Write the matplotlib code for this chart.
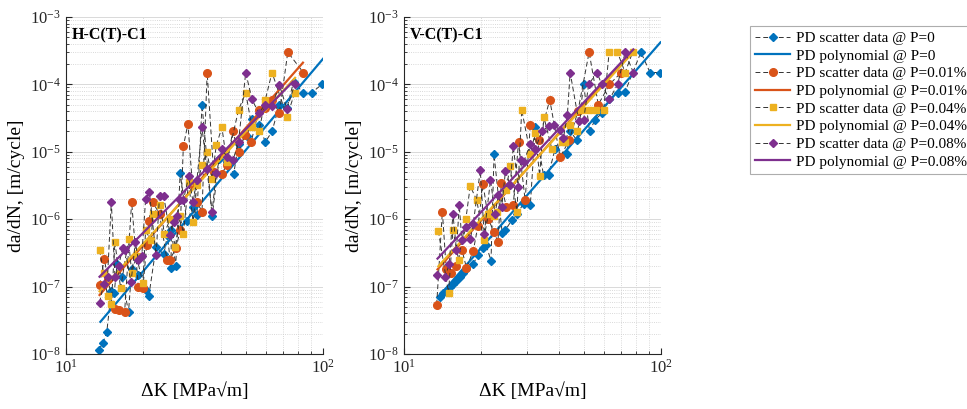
import matplotlib
matplotlib.use('Agg')
import matplotlib.pyplot as plt
from matplotlib.ticker import NullFormatter

plt.rcParams['font.family'] = ['Liberation Serif', 'DejaVu Serif']
plt.rcParams['mathtext.fontset'] = 'custom'
plt.rcParams['mathtext.rm'] = 'Liberation Serif'
plt.rcParams['mathtext.it'] = 'Liberation Serif:italic'
plt.rcParams['mathtext.bf'] = 'Liberation Serif:bold'

# ---------------- H-C(T)-C1 (left panel) ----------------
h_k_p0 = [13.4, 13.9, 14.4, 15.0, 15.4, 15.8, 16.5, 17.5, 18.0, 19.1, 20.4, 21.0, 22.4, 24.0,
          24.8, 25.6, 25.7, 26.7, 27.8, 29.5, 31.2, 32.3, 33.8, 37.0, 39.4, 42.2, 44.9, 46.9,
          50.5, 52.9, 56.3, 59.6, 63.3, 67.6, 72.4, 76.8, 83.6, 90.2, 99.0]
h_da_p0 = [1.15e-8, 1.45e-8, 2.1e-8, 8.6e-8, 8.1e-8, 2.2e-7, 1.4e-7, 4.2e-8, 1.8e-7, 1.5e-7, 9.0e-8,
           7.3e-8, 3.9e-7, 3.0e-7, 5.8e-7, 1.9e-7, 7.0e-7, 2.0e-7, 4.8e-6, 9.3e-7, 1.5e-6, 1.15e-6,
           5.0e-5, 1.1e-6, 7.7e-6, 7.0e-6, 4.7e-6, 1.3e-5, 1.7e-5, 3.1e-5, 2.5e-5, 1.4e-5, 2.0e-5,
           5.0e-5, 4.5e-5, 1.1e-4, 7.5e-5, 7.5e-5, 1.0e-4]

h_k_p1 = [13.5, 14.1, 14.5, 15.5, 16.0, 16.9, 18.0, 19.1, 19.9, 20.6, 21.0, 21.7, 23.1, 24.7,
          25.3, 26.8, 27.8, 28.6, 29.8, 31.0, 32.3, 33.8, 35.4, 37.5, 40.4, 42.2, 44.5, 46.9,
          49.7, 52.5, 56.3, 59.6, 63.1, 67.6, 72.9, 83.8]
h_da_p1 = [1.05e-7, 2.6e-7, 1.3e-7, 4.6e-8, 4.5e-8, 4.2e-8, 1.8e-6, 1.0e-7, 9.4e-8, 4.2e-7, 9.5e-7,
           1.8e-6, 1.2e-6, 2.5e-7, 2.5e-7, 3.7e-7, 7.0e-7, 1.2e-5, 2.6e-5, 3.3e-6, 1.8e-6, 1.3e-6,
           1.5e-4, 5.0e-6, 4.7e-6, 6.4e-6, 2.0e-5, 1.0e-5, 1.8e-5, 1.4e-5, 4.2e-5, 4.5e-5, 5.9e-5,
           3.8e-5, 3.0e-4, 1.5e-4]

h_k_p4 = [13.5, 14.0, 14.5, 15.0, 15.5, 16.3, 17.5, 18.0, 18.8, 19.9, 20.4, 21.4, 21.8, 23.3,
          24.1, 25.4, 26.6, 27.8, 28.6, 30.0, 31.2, 32.3, 33.8, 35.3, 37.0, 38.4, 40.4, 42.2,
          46.9, 50.0, 52.9, 56.3, 59.6, 63.3, 72.4, 77.5]
h_da_p4 = [3.5e-7, 1.6e-7, 7.3e-8, 5.6e-8, 4.6e-7, 9.4e-8, 5.0e-7, 1.6e-7, 2.8e-7, 1.14e-7, 6.9e-7,
           4.9e-7, 1.2e-6, 1.6e-6, 6.1e-7, 1.0e-6, 3.9e-7, 1.1e-6, 6.1e-7, 3.6e-6, 9.1e-7, 3.2e-6,
           6.3e-6, 1.0e-5, 4.0e-6, 1.24e-5, 2.3e-5, 7.1e-6, 4.2e-5, 7.5e-5, 2.3e-5, 2.0e-5, 5.9e-5,
           1.5e-4, 3.3e-5, 7.5e-5]

h_k_p8 = [13.5, 14.0, 14.5, 15.0, 15.5, 16.0, 16.6, 17.0, 17.9, 18.6, 19.1, 19.7, 20.4, 21.1,
          22.4, 23.1, 24.0, 25.4, 26.2, 26.9, 27.8, 28.6, 30.0, 31.2, 32.3, 33.8, 35.3, 37.0,
          38.4, 40.4, 42.2, 44.6, 46.9, 50.0, 52.9, 56.3, 59.2, 63.3, 67.6, 72.4, 77.5]
h_da_p8 = [5.8e-8, 1.1e-7, 1.4e-7, 1.8e-6, 1.4e-7, 2.0e-7, 3.7e-7, 3.5e-7, 1.15e-7, 4.6e-7, 2.5e-7,
           2.8e-7, 2.0e-6, 2.5e-6, 2.9e-7, 2.2e-6, 2.2e-6, 5.8e-7, 9.0e-7, 1.1e-6, 1.9e-6, 1.9e-6,
           4.3e-6, 1.8e-6, 3.8e-6, 2.3e-5, 5.5e-6, 1.3e-6, 4.8e-6, 1.1e-5, 8.5e-6, 7.5e-6, 1.4e-5,
           1.5e-4, 6.0e-5, 3.7e-5, 5.0e-5, 4.8e-5, 9.8e-5, 4.3e-5, 1.0e-4]

# polynomial fit lines (end points)
h_fit_k = [[13.6, 100.0], [13.5, 83.5], [13.5, 77.8], [13.5, 76.4]]
h_fit_da = [[3.0e-8, 2.4e-4], [7.5e-8, 2.1e-4], [8.5e-8, 1.25e-4], [1.4e-7, 1.1e-4]]

# ---------------- V-C(T)-C1 (right panel) ----------------
v_k_p0 = [13.8, 14.2, 14.6, 15.1, 15.5, 16.0, 16.5, 17.0, 17.5, 18.6, 19.4, 20.3, 20.9, 21.8,
          22.4, 24.1, 24.7, 26.3, 27.5, 29.2, 31.0, 32.4, 34.9, 36.5, 38.7, 43.0, 44.3, 47.0,
          50.0, 52.7, 55.4, 58.8, 63.0, 67.8, 72.5, 83.5, 90.6, 99.5]
v_da_p0 = [7.1e-8, 8.0e-8, 8.7e-8, 9.8e-8, 1.1e-7, 1.2e-7, 1.4e-7, 1.6e-7, 1.8e-7, 2.2e-7, 2.9e-7,
           3.7e-7, 4.1e-7, 2.4e-7, 9.2e-6, 6.2e-7, 6.8e-7, 9.7e-7, 1.2e-6, 1.7e-6, 1.6e-6, 2.3e-5,
           4.5e-6, 4.6e-6, 1.1e-5, 9.4e-6, 2.0e-5, 1.5e-5, 1.0e-4, 2.0e-5, 3.0e-5, 3.7e-5, 6.0e-5,
           7.5e-5, 7.8e-5, 3.0e-4, 1.5e-4, 1.5e-4]

v_k_p1 = [13.4, 14.1, 14.6, 15.3, 16.0, 16.8, 17.5, 18.6, 19.4, 20.3, 21.3, 22.4, 23.2, 23.9,
          25.0, 26.6, 27.9, 29.6, 31.0, 33.5, 36.9, 40.5, 44.0, 47.5, 52.5, 57.0, 63.0, 70.0]
v_da_p1 = [5.4e-8, 1.3e-6, 1.8e-7, 1.6e-7, 2.0e-7, 3.5e-7, 1.9e-7, 3.4e-7, 8.0e-7, 3.3e-6, 1.0e-6,
           6.4e-7, 4.6e-7, 3.4e-6, 1.5e-6, 1.6e-6, 1.4e-5, 1.9e-6, 2.5e-5, 1.5e-5, 5.9e-5, 8.3e-6,
           1.5e-5, 4.0e-5, 3.0e-4, 5.0e-5, 1.0e-4, 1.5e-4]

v_k_p4 = [13.6, 14.9, 15.5, 16.3, 17.4, 18.1, 19.2, 20.4, 21.3, 22.3, 23.0, 24.9, 25.9, 27.5,
          28.7, 31.0, 32.4, 33.7, 35.0, 37.6, 41.1, 42.4, 44.3, 47.0, 49.2, 52.5, 55.8, 59.8,
          62.8, 67.7, 72.5, 77.5]
v_da_p4 = [6.7e-7, 8.1e-8, 6.9e-7, 2.5e-7, 1.0e-6, 3.1e-6, 1.9e-6, 4.9e-7, 1.2e-6, 1.1e-6, 1.3e-6,
           2.7e-6, 6.1e-6, 1.3e-6, 4.2e-5, 9.4e-6, 1.9e-5, 4.4e-6, 3.3e-5, 1.1e-5, 1.4e-5, 1.4e-5,
           2.5e-5, 2.0e-5, 4.2e-5, 4.2e-5, 4.2e-5, 4.2e-5, 3.0e-4, 3.0e-4, 1.5e-4, 3.0e-4]

v_k_p8 = [13.4, 14.5, 15.0, 15.5, 16.0, 16.4, 16.8, 17.5, 18.1, 18.6, 19.8, 20.5, 21.7, 22.6,
          23.3, 24.0, 24.8, 25.9, 26.6, 27.8, 28.5, 29.2, 31.0, 32.4, 34.4, 36.5, 38.2, 40.5,
          41.7, 43.2, 44.3, 47.8, 50.0, 52.3, 56.3, 58.8, 63.0, 67.8, 72.5, 78.0]
v_da_p8 = [1.5e-7, 1.4e-7, 2.2e-7, 1.2e-6, 3.5e-7, 1.6e-6, 4.9e-7, 7.7e-7, 5.0e-7, 8.6e-7, 5.3e-6,
           6.0e-7, 3.8e-6, 1.2e-6, 2.3e-6, 1.5e-6, 5.1e-6, 3.2e-6, 1.2e-5, 3.0e-6, 7.5e-6, 7.1e-6,
           1.3e-5, 1.1e-5, 2.0e-5, 2.4e-5, 2.5e-5, 2.1e-5, 1.6e-5, 3.5e-5, 1.5e-4, 2.9e-5, 3.0e-5,
           1.0e-4, 1.5e-4, 1.0e-4, 6.0e-5, 1.0e-4, 3.0e-4, 1.5e-4]

v_fit_k = [[13.6, 99.5], [13.5, 77.0], [13.6, 76.0], [13.5, 78.0]]
v_fit_da = [[7.0e-8, 4.2e-4], [1.8e-7, 3.1e-4], [2.0e-7, 2.7e-4], [2.6e-7, 3.3e-4]]

p_labels = ['0', '0.01%', '0.04%', '0.08%']
colors = ['#0072BD', '#D95319', '#EDB120', '#7E2F8E']
markers = ['D', 'o', 's', 'D']
msizes = [4.5, 5.5, 5.0, 4.5]

fig = plt.figure(figsize=(9.67, 4.09), dpi=100)
ax1 = fig.add_axes([0.0683, 0.1345, 0.2658, 0.824])
ax2 = fig.add_axes([0.4178, 0.1345, 0.2658, 0.824])


def draw_panel(ax, ks, das, fit_k, fit_da, title):
    for i in range(4):
        ax.plot(ks[i], das[i], linestyle='--', dashes=(5, 3), color='0.2', lw=0.7,
                marker=markers[i], ms=msizes[i], mfc=colors[i], mec=colors[i],
                label='PD scatter data @ P=' + p_labels[i])
        ax.plot(fit_k[i], fit_da[i], '-', color=colors[i], lw=1.6,
                label='PD polynomial @ P=' + p_labels[i])
    ax.set_xscale('log')
    ax.set_yscale('log')
    ax.set_xlim(10, 100)
    ax.set_ylim(1e-8, 1e-3)
    ax.xaxis.set_minor_formatter(NullFormatter())
    ax.yaxis.set_minor_formatter(NullFormatter())
    ax.grid(True, which='major', color='0.85', lw=0.7, ls='-')
    ax.grid(True, which='minor', color='0.8', lw=0.6, ls=':')
    ax.set_axisbelow(True)
    for s in ['top', 'right']:
        ax.spines[s].set_visible(False)
    for s in ['left', 'bottom']:
        ax.spines[s].set_color('0.15')
        ax.spines[s].set_linewidth(0.8)
    ax.tick_params(which='both', direction='in', labelsize=12, colors='0.15')
    ax.tick_params(which='major', length=4)
    ax.tick_params(which='minor', length=2)
    ax.set_xlabel('ΔK [MPa√m]', fontsize=14, labelpad=4)
    ax.set_ylabel('da/dN, [m/cycle]', fontsize=14, labelpad=4)
    ax.text(0.022, 0.97, title, transform=ax.transAxes, fontsize=11.5,
            fontweight='bold', va='top', ha='left')


draw_panel(ax1, [h_k_p0, h_k_p1, h_k_p4, h_k_p8], [h_da_p0, h_da_p1, h_da_p4, h_da_p8],
           h_fit_k, h_fit_da, 'H-C(T)-C1')
draw_panel(ax2, [v_k_p0, v_k_p1, v_k_p4, v_k_p8], [v_da_p0, v_da_p1, v_da_p4, v_da_p8],
           v_fit_k, v_fit_da, 'V-C(T)-C1')

handles, labels = ax1.get_legend_handles_labels()
leg = fig.legend(handles, labels, loc='upper left', bbox_to_anchor=(0.7756, 0.9364),
                 bbox_transform=fig.transFigure, fontsize=11, frameon=True, fancybox=False,
                 edgecolor='0.6', handlelength=2.3, handletextpad=0.35, labelspacing=0.26,
                 borderpad=0.35, borderaxespad=0.0, numpoints=1)
leg.get_frame().set_linewidth(0.8)

fig.savefig('out.png', dpi=100)
